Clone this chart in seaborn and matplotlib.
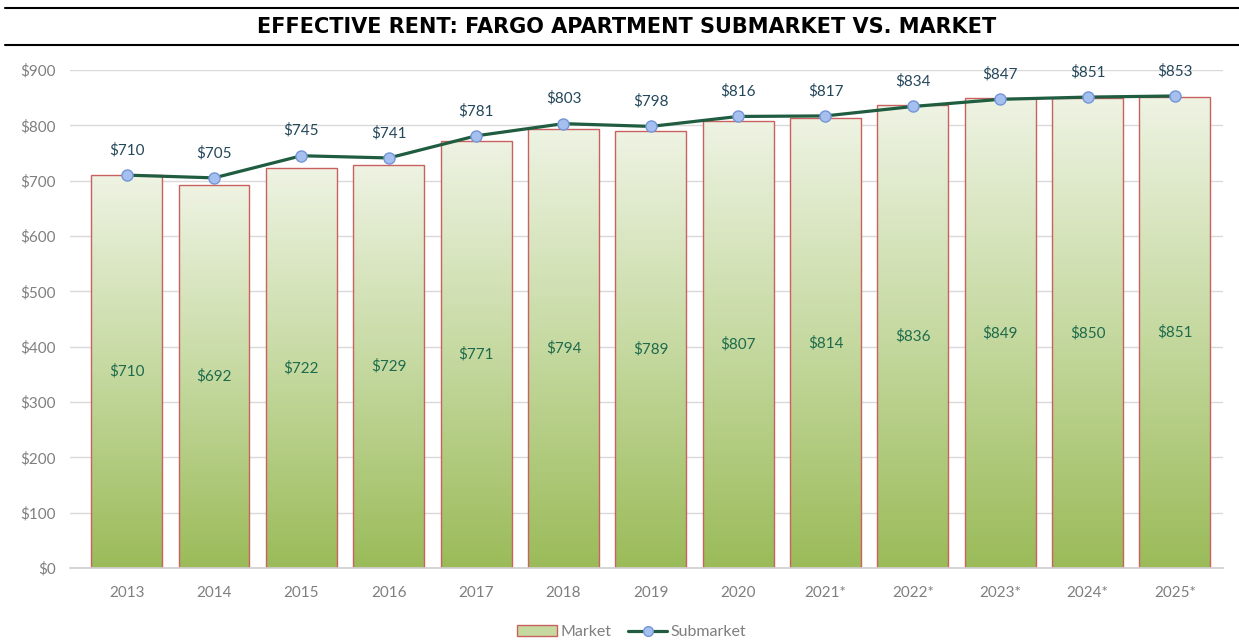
import numpy as np
import pandas as pd
import matplotlib
matplotlib.use('Agg')
import matplotlib.pyplot as plt
import seaborn as sns
from matplotlib.colors import LinearSegmentedColormap
from matplotlib.patches import Rectangle
from matplotlib.lines import Line2D
from matplotlib.legend_handler import HandlerPatch

# chart data
years = ['2013', '2014', '2015', '2016', '2017', '2018', '2019', '2020',
         '2021*', '2022*', '2023*', '2024*', '2025*']
market = [710, 692, 722, 729, 771, 794, 789, 807, 814, 836, 849, 850, 851]
submarket = [710, 705, 745, 741, 781, 803, 798, 816, 817, 834, 847, 851, 853]
yticks = [0, 100, 200, 300, 400, 500, 600, 700, 800, 900]

df = pd.DataFrame({'Year': years, 'Market': market, 'Submarket': submarket})

sns.set_theme(style='white')
plt.rcParams['font.family'] = ['Lato', 'DejaVu Sans']

fig = plt.figure(figsize=(12.39, 6.42), dpi=100)
ax = fig.add_axes([0.0565, 0.1153, 0.9305, 0.7757])

# bars for the market
sns.barplot(data=df, x='Year', y='Market', ax=ax, width=0.81,
            color='white', edgecolor='#c9625f', linewidth=1.0, zorder=2)

grad = LinearSegmentedColormap.from_list('g', ['#9bbb59', '#c5d9a0', '#eef3e3'])
for bar in ax.patches:
    x0, y0 = bar.get_x(), bar.get_y()
    w, h = bar.get_width(), bar.get_height()
    bar.set_facecolor('none')
    img = ax.imshow(np.linspace(0, 1, 256).reshape(-1, 1), cmap=grad,
                    origin='lower', aspect='auto',
                    extent=[x0, x0 + w, y0, y0 + h], zorder=1.5)
    img.set_clip_path(bar)
    ax.text(x0 + w / 2, h / 2, f'${h:.0f}', ha='center', va='center',
            fontsize=11, color='#1d6b4c', zorder=5)

# line for the submarket
sns.lineplot(x=np.arange(len(years)), y=df['Submarket'], ax=ax,
             color='#1f5c40', linewidth=2.3, marker='o', markersize=8,
             markerfacecolor='#a5bfee', markeredgecolor='#7496d6',
             markeredgewidth=1.0, zorder=4)
for i, v in enumerate(submarket):
    ax.annotate(f'${v}', (i, v), xytext=(0, 18), textcoords='offset points',
                ha='center', va='center', fontsize=11, color='#24475a', zorder=5)

ax.set_xlim(-0.65, 12.55)
ax.set_ylim(0, 900)
ax.set_yticks(yticks)
ax.set_yticklabels([f'${t}' for t in yticks])
ax.set_xlabel('')
ax.set_ylabel('')
ax.yaxis.grid(True, color='#d9d9d9', linewidth=1)
ax.set_axisbelow(True)
for s in ['top', 'right', 'left']:
    ax.spines[s].set_visible(False)
ax.spines['bottom'].set_color('#d0d0d0')
ax.tick_params(axis='y', length=0, labelsize=11, colors='#7f7f7f', pad=10)
ax.tick_params(axis='x', length=0, labelsize=11, colors='#7f7f7f', pad=13)

# title band
fig.add_artist(Line2D([0.004, 1.0], [1 - 8 / 642, 1 - 8 / 642], color='black', lw=1.5))
fig.add_artist(Line2D([0.004, 1.0], [1 - 45 / 642, 1 - 45 / 642], color='black', lw=1.5))
fig.text(0.506, 1 - 27 / 642, 'EFFECTIVE RENT: FARGO APARTMENT SUBMARKET VS. MARKET',
         ha='center', va='center', fontsize=15, fontweight='heavy', color='black',
         family='DejaVu Sans')


class GradHandler(HandlerPatch):
    def create_artists(self, legend, orig_handle, xdescent, ydescent,
                       width, height, fontsize, trans):
        r = Rectangle((-xdescent, -ydescent), width, height,
                      facecolor='#c5d9a0', edgecolor='#c9625f', lw=1.0,
                      transform=trans)
        return [r]


handles = [Rectangle((0, 0), 1, 1), Line2D([], [], color='#1f5c40', lw=2.3, marker='o',
                                           markersize=7, markerfacecolor='#a5bfee',
                                           markeredgecolor='#7496d6')]
leg = fig.legend(handles, ['Market', 'Submarket'], loc='center',
                 bbox_to_anchor=(0.51, 1 - 632 / 642), ncol=2, frameon=False,
                 fontsize=11.5, handlelength=2.5, handletextpad=0.2, columnspacing=1.0,
                 handler_map={Rectangle: GradHandler()})
for t in leg.get_texts():
    t.set_color('#7f7f7f')

fig.savefig('out.png', dpi=100, facecolor='white')
